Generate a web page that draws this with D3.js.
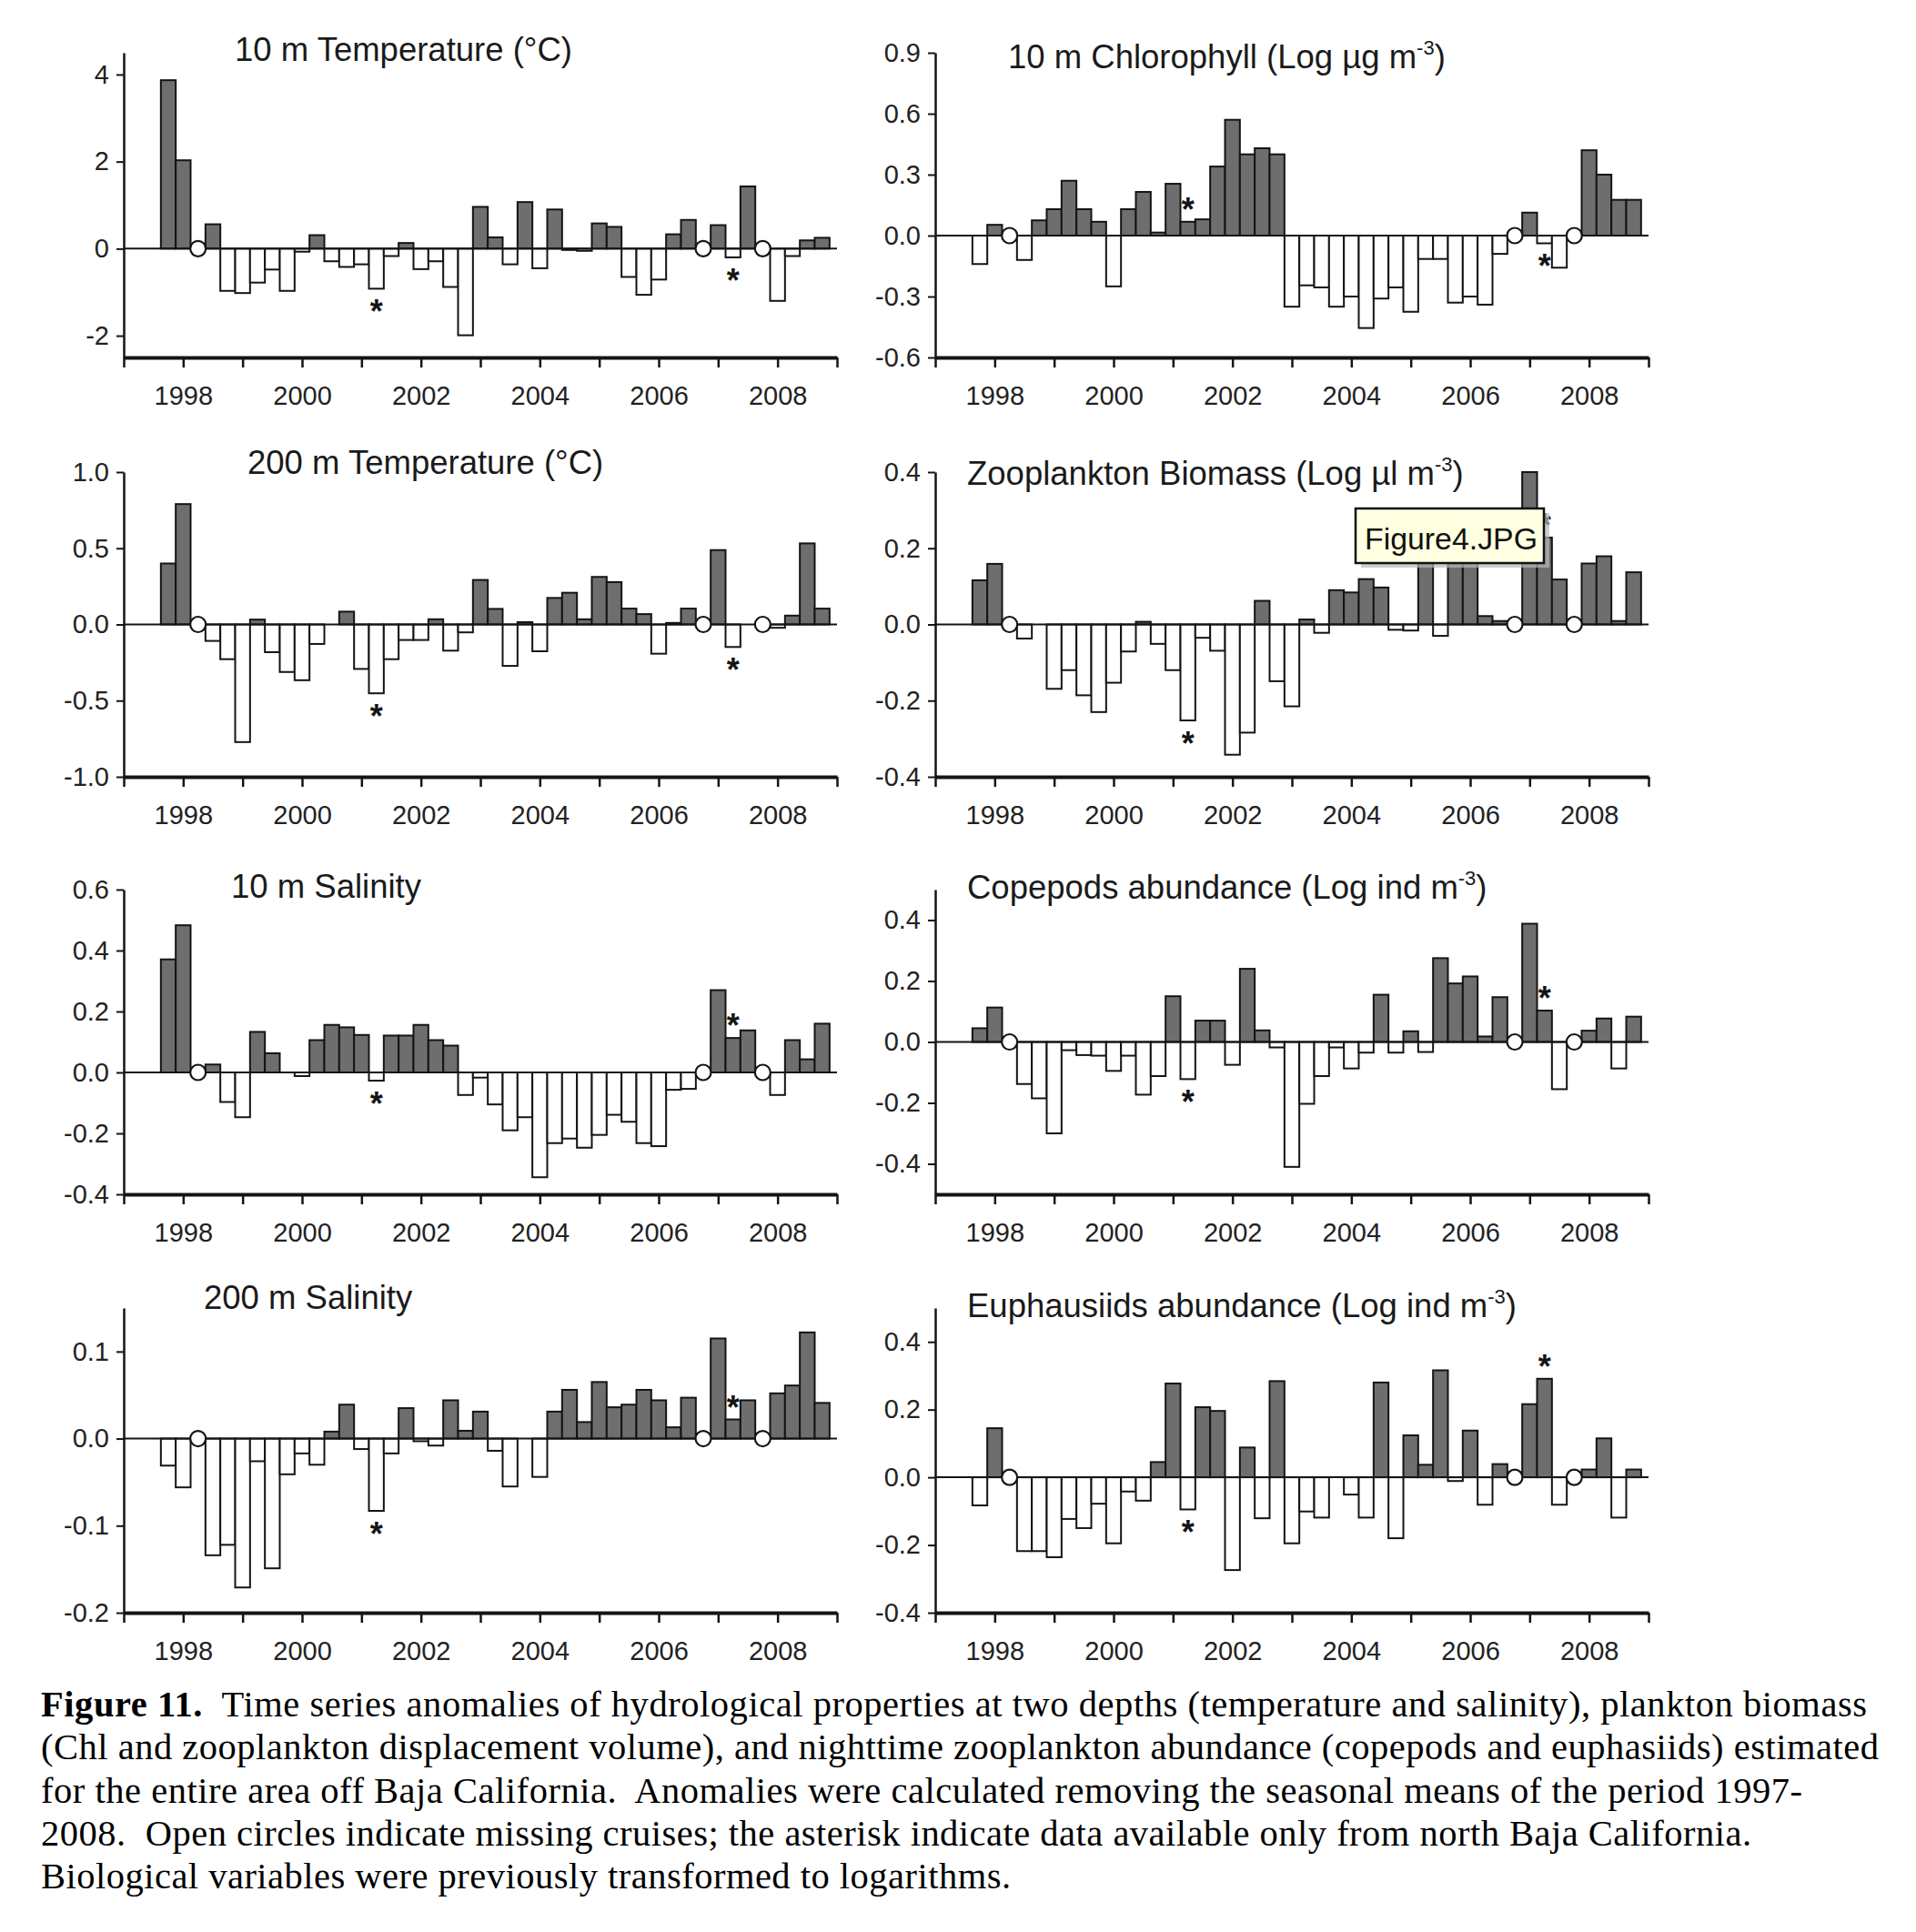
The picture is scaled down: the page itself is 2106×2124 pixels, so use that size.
<!DOCTYPE html>
<html><head><meta charset="utf-8">
<script src="https://cdn.jsdelivr.net/npm/d3@7"></script>
<style>body{margin:0;background:#fff;} svg{display:block;}</style>
</head><body>
<svg id="chart" width="2106" height="2124"></svg>
<script>
// ---------- DATA ----------
const cruiseYears = [1997.75, 1998.00, 1998.25, 1998.50, 1998.75, 1999.00, 1999.25, 1999.50, 1999.75,
  2000.00, 2000.25, 2000.50, 2000.75, 2001.00, 2001.25, 2001.50, 2001.75, 2002.00, 2002.25, 2002.50, 2002.75,
  2003.00, 2003.25, 2003.50, 2003.75, 2004.00, 2004.25, 2004.50, 2004.75, 2005.00, 2005.25, 2005.50, 2005.75,
  2006.00, 2006.25, 2006.50, 2006.75, 2007.00, 2007.25, 2007.50, 2007.75, 2008.00, 2008.25, 2008.50, 2008.75];
const xTickYears = [1997, 1998, 1999, 2000, 2001, 2002, 2003, 2004, 2005, 2006, 2007, 2008, 2009];
const xLabelYears = [1998, 2000, 2002, 2004, 2006, 2008];
const asteriskSlots = [14, 38];   // data only from north Baja California (null = missing cruise -> open circle)

const temp10 = [3.87, 2.03, null, 0.56, -0.97, -1.02, -0.78, -0.48, -0.97, -0.07, 0.31, -0.29, -0.42, -0.36, -0.92,
  -0.17, 0.13, -0.47, -0.29, -0.88, -1.99, 0.96, 0.26, -0.36, 1.07, -0.45, 0.90, -0.03, -0.05, 0.58, 0.50, -0.65,
  -1.06, -0.71, 0.33, 0.66, null, 0.54, -0.20, 1.43, null, -1.20, -0.17, 0.19, 0.25];
const chl10 = [-0.14, 0.053, null, -0.12, 0.075, 0.13, 0.27, 0.13, 0.068, -0.25, 0.13, 0.215, 0.015, 0.255, 0.068,
  0.08, 0.34, 0.57, 0.40, 0.43, 0.40, -0.35, -0.245, -0.255, -0.35, -0.30, -0.455, -0.31, -0.255, -0.375, -0.115,
  -0.115, -0.33, -0.30, -0.34, -0.09, null, 0.113, -0.038, -0.158, null, 0.42, 0.30, 0.176, 0.176];
const temp200 = [0.40, 0.79, null, -0.108, -0.228, -0.772, 0.032, -0.182, -0.312, -0.366, -0.128, 0, 0.084, -0.292,
  -0.452, -0.228, -0.102, -0.102, 0.034, -0.172, -0.052, 0.292, 0.102, -0.272, 0.015, -0.176, 0.174, 0.208, 0.034,
  0.312, 0.278, 0.104, 0.068, -0.192, 0.01, 0.104, null, 0.488, -0.148, 0, null, -0.022, 0.058, 0.532, 0.104];
const zooBiomass = [0.116, 0.159, null, -0.037, 0, -0.169, -0.12, -0.186, -0.23, -0.153, -0.071, 0.007, -0.051, -0.12,
  -0.252, -0.035, -0.069, -0.342, -0.284, 0.062, -0.149, -0.215, 0.013, -0.022, 0.09, 0.084, 0.119, 0.097, -0.014,
  -0.016, 0.25, -0.03, 0.25, 0.24, 0.022, 0.009, null, 0.40, 0.228, 0.118, null, 0.16, 0.179, 0.009, 0.137];
const sal10 = [0.371, 0.483, null, 0.026, -0.097, -0.147, 0.133, 0.063, 0, -0.012, 0.106, 0.156, 0.148, 0.123, -0.027,
  0.121, 0.121, 0.156, 0.106, 0.088, -0.074, -0.017, -0.105, -0.19, -0.147, -0.344, -0.232, -0.217, -0.247, -0.205,
  -0.139, -0.162, -0.232, -0.242, -0.057, -0.054, null, 0.27, 0.113, 0.138, null, -0.074, 0.106, 0.043, 0.16];
const copepods = [0.045, 0.113, null, -0.138, -0.185, -0.30, -0.027, -0.043, -0.045, -0.095, -0.045, -0.173, -0.112,
  0.15, -0.122, 0.07, 0.07, -0.075, 0.24, 0.038, -0.018, -0.41, -0.203, -0.112, -0.018, -0.087, -0.035, 0.155, -0.035,
  0.035, -0.033, 0.275, 0.192, 0.215, 0.018, 0.147, null, 0.388, 0.103, -0.155, null, 0.037, 0.077, -0.087, 0.083];
const sal200 = [-0.031, -0.056, null, -0.134, -0.122, -0.171, -0.026, -0.149, -0.041, -0.017, -0.03, 0.008, 0.039,
  -0.012, -0.083, -0.017, 0.035, -0.003, -0.008, 0.044, 0.009, 0.031, -0.014, -0.055, 0, -0.044, 0.031, 0.056, 0.019,
  0.065, 0.036, 0.039, 0.056, 0.044, 0.013, 0.047, null, 0.115, 0.022, 0.044, null, 0.052, 0.061, 0.122, 0.041];
const euphausiids = [-0.083, 0.145, null, -0.218, -0.218, -0.236, -0.123, -0.15, -0.078, -0.195, -0.042, -0.069, 0.045,
  0.277, -0.095, 0.207, 0.196, -0.274, 0.088, -0.121, 0.284, -0.195, -0.101, -0.119, 0, -0.051, -0.119, 0.28, -0.18,
  0.124, 0.037, 0.316, -0.011, 0.138, -0.081, 0.039, null, 0.216, 0.291, -0.081, null, 0.023, 0.115, -0.119, 0.023];

const temp10Ticks = [-2, 0, 2, 4];
const chl10Ticks = [-0.6, -0.3, 0, 0.3, 0.6, 0.9];
const temp200Ticks = [-1, -0.5, 0, 0.5, 1];
const zooTicks = [-0.4, -0.2, 0, 0.2, 0.4];
const sal10Ticks = [-0.4, -0.2, 0, 0.2, 0.4, 0.6];
const copeTicks = [-0.4, -0.2, 0, 0.2, 0.4];
const sal200Ticks = [-0.2, -0.1, 0, 0.1];
const euphTicks = [-0.4, -0.2, 0, 0.2, 0.4];

const titles = [
  ["10 m Temperature (°C)"], ["10 m Chlorophyll (Log µg m", "-3", ")"],
  ["200 m Temperature (°C)"], ["Zooplankton Biomass (Log µl m", "-3", ")"],
  ["10 m Salinity"], ["Copepods abundance (Log ind m", "-3", ")"],
  ["200 m Salinity"], ["Euphausiids abundance (Log ind m", "-3", ")"]];

const captionLines = [
  ["Figure 11.", "  Time series anomalies of hydrological properties at two depths (temperature and salinity), plankton biomass"],
  ["", "(Chl and zooplankton displacement volume), and nighttime zooplankton abundance (copepods and euphasiids) estimated"],
  ["", "for the entire area off Baja California.  Anomalies were calculated removing the seasonal means of the period 1997-"],
  ["", "2008.  Open circles indicate missing cruises; the asterisk indicate data available only from north Baja California."],
  ["", "Biological variables were previously transformed to logarithms."]];

// ---------- LAYOUT ----------
const FONT = "'Liberation Sans', Arial, sans-serif";
const SERIF = "'Liberation Serif', 'Times New Roman', serif";
const GRAY = "#6e6e6e", INK = "#141414";
const colX = [136, 1028];
const rowY = [58, 519, 978, 1438];
const plotW = 784, plotH = 335;
const fmt1 = v => d3.format(".1f")(v).replace("\u2212", "-");
const fmt0 = v => d3.format("d")(v).replace("\u2212", "-");

const panels = [
  {title: titles[0], values: temp10,     domain: [-2.5, 4.5], ticks: temp10Ticks, fmt: fmt0, col: 0, row: 0, tx: 122, ty: 9},
  {title: titles[1], values: chl10,      domain: [-0.6, 0.9], ticks: chl10Ticks,  fmt: fmt1, col: 1, row: 0, tx: 80,  ty: 17},
  {title: titles[2], values: temp200,    domain: [-1, 1],     ticks: temp200Ticks,fmt: fmt1, col: 0, row: 1, tx: 136, ty: 2},
  {title: titles[3], values: zooBiomass, domain: [-0.4, 0.4], ticks: zooTicks,    fmt: fmt1, col: 1, row: 1, tx: 35,  ty: 14},
  {title: titles[4], values: sal10,      domain: [-0.4, 0.6], ticks: sal10Ticks,  fmt: fmt1, col: 0, row: 2, tx: 118, ty: 9},
  {title: titles[5], values: copepods,   domain: [-0.5, 0.5], ticks: copeTicks,   fmt: fmt1, col: 1, row: 2, tx: 35,  ty: 10},
  {title: titles[6], values: sal200,     domain: [-0.2, 0.15],ticks: sal200Ticks, fmt: fmt1, col: 0, row: 3, tx: 88,  ty: 1},
  {title: titles[7], values: euphausiids,domain: [-0.4, 0.5], ticks: euphTicks,   fmt: fmt1, col: 1, row: 3, tx: 35,  ty: 10}
];

const svg = d3.select("#chart");
svg.append("rect").attr("width", 2106).attr("height", 2124).attr("fill", "#fff");

panels.forEach(p => {
  const x0 = colX[p.col], y0 = rowY[p.row];
  const g = svg.append("g");
  const x = d3.scaleLinear().domain([1997, 2009]).range([x0, x0 + plotW]);
  const y = d3.scaleLinear().domain(p.domain).range([y0 + plotH, y0]);
  const bw = x(1997.25) - x(1997);
  const data = cruiseYears.map((t, i) => ({t, v: p.values[i], i}));

  g.selectAll("rect.bar").data(data.filter(d => d.v !== null && d.v !== 0)).join("rect")
    .attr("class", "bar")
    .attr("x", d => x(d.t) - bw / 2).attr("width", bw)
    .attr("y", d => y(Math.max(0, d.v)))
    .attr("height", d => Math.abs(y(d.v) - y(0)))
    .attr("fill", d => d.v > 0 ? GRAY : "#fff")
    .attr("stroke", INK).attr("stroke-width", 2);

  g.append("line").attr("x1", x0).attr("x2", x0 + plotW)
    .attr("y1", y(0)).attr("y2", y(0)).attr("stroke", INK).attr("stroke-width", 2);

  g.selectAll("circle.miss").data(data.filter(d => d.v === null)).join("circle")
    .attr("class", "miss").attr("cx", d => x(d.t)).attr("cy", y(0)).attr("r", 8.5)
    .attr("fill", "#fff").attr("stroke", INK).attr("stroke-width", 2.2);

  g.selectAll("text.ast").data(asteriskSlots.map(i => data[i])).join("text")
    .attr("class", "ast")
    .attr("x", d => x(d.t)).attr("text-anchor", "middle")
    .attr("y", d => (d.v >= 0 ? y(d.v) - 21 : y(d.v) + 18) + 20)
    .attr("font-family", FONT).attr("font-size", 36).attr("font-weight", "bold").attr("fill", INK).text("*");

  // y axis
  const ya = g.append("g").attr("transform", `translate(${x0},0)`)
    .call(d3.axisLeft(y).tickValues(p.ticks).tickSize(8).tickSizeOuter(0).tickPadding(8).tickFormat(p.fmt));
  ya.select(".domain").attr("stroke", INK).attr("stroke-width", 2.5);
  ya.selectAll(".tick line").attr("stroke", INK).attr("stroke-width", 2);
  ya.selectAll(".tick text").attr("font-family", FONT).attr("font-size", 29).attr("fill", "#222");

  // x axis
  const xa = g.append("g").attr("transform", `translate(0,${y0 + plotH})`)
    .call(d3.axisBottom(x).tickValues(xTickYears).tickSize(11).tickSizeOuter(0).tickPadding(20)
      .tickFormat(d => xLabelYears.includes(d) ? String(d) : ""));
  xa.select(".domain").attr("stroke", INK).attr("stroke-width", 4);
  xa.selectAll(".tick line").attr("stroke", INK).attr("stroke-width", 2.5);
  xa.selectAll(".tick text").attr("font-family", FONT).attr("font-size", 29).attr("fill", "#222");

  // title
  const tt = g.append("text").attr("x", x0 + p.tx).attr("y", y0 + p.ty)
    .attr("font-family", FONT).attr("font-size", 36.5).attr("fill", "#1a1a1a");
  tt.append("tspan").text(p.title[0]);
  if (p.title.length > 1) {
    tt.append("tspan").attr("font-size", 22).attr("dy", -15).text(p.title[1]);
    tt.append("tspan").attr("dy", 15).text(p.title[2]);
  }
});

// tooltip box overlay
const tip = svg.append("g");
tip.append("rect").attr("x", 1496).attr("y", 564).attr("width", 207).attr("height", 60).attr("fill", "#b8b8b8").attr("opacity", 0.7);
tip.append("rect").attr("x", 1490).attr("y", 559).attr("width", 207).attr("height", 60)
  .attr("fill", "#ffffe1").attr("stroke", "#111").attr("stroke-width", 2.5);
tip.append("text").attr("x", 1500).attr("y", 604).attr("font-family", FONT).attr("font-size", 33)
  .attr("textLength", 190).attr("lengthAdjust", "spacingAndGlyphs").attr("fill", "#111").text("Figure4.JPG");

// caption
const capW = [2007, 2020, 1936, 1880, 1066];
captionLines.forEach((ln, k) => {
  const t = svg.append("text").attr("x", 45).attr("y", 1887 + k * 47.3)
    .attr("font-family", SERIF).attr("font-size", 40.5).attr("fill", "#000")
    .style("white-space", "pre")
    .attr("textLength", capW[k]).attr("lengthAdjust", "spacing");
  if (ln[0]) t.append("tspan").attr("font-weight", "bold").text(ln[0]);
  t.append("tspan").text(ln[1]);
});
</script>
</body></html>
